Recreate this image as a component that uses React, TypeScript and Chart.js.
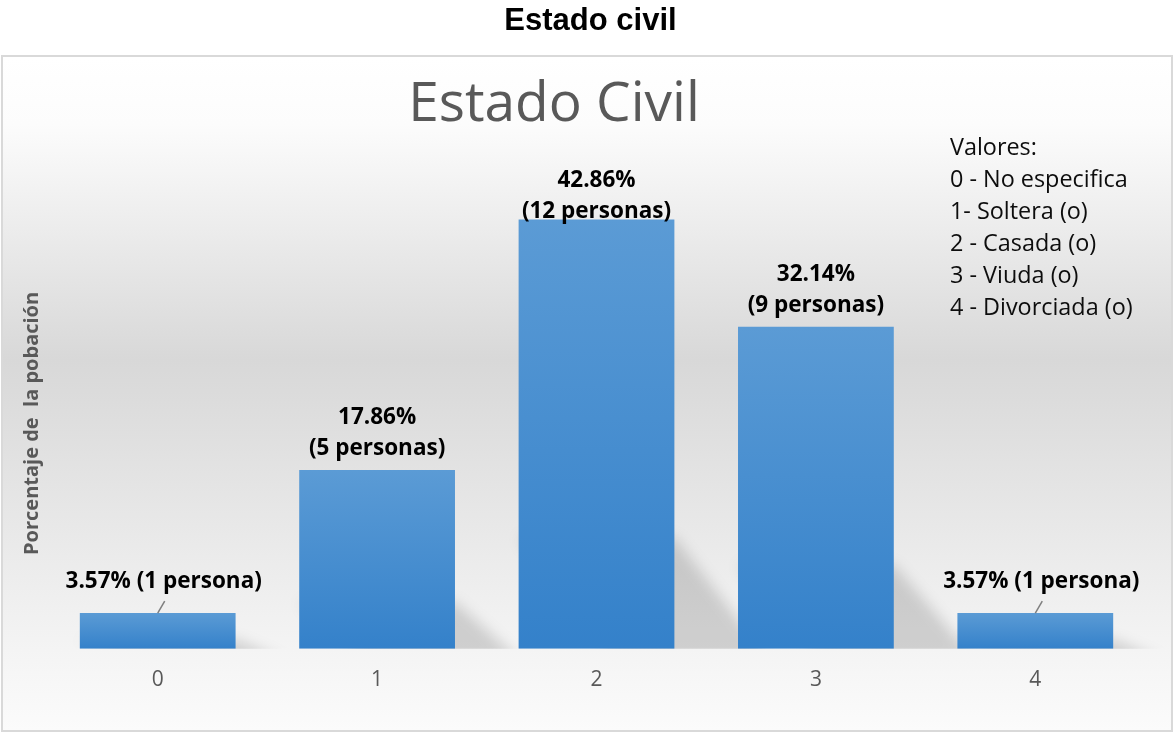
import React, { useEffect, useRef } from "react";
import { Chart, registerables } from "chart.js";

Chart.register(...registerables);

// ---- data ----
const pageTitle = "Estado civil";
const chartTitle = "Estado Civil";
const yAxisTitle = "Porcentaje de  la pobación";
const categories = ["0", "1", "2", "3", "4"];
const percentages = [3.57, 17.86, 42.86, 32.14, 3.57];
const personCounts = [1, 5, 12, 9, 1];
const legendLines = [
  "Valores:",
  "0 - No especifica",
  "1- Soltera (o)",
  "2 - Casada (o)",
  "3 - Viuda (o)",
  "4 - Divorciada (o)",
];
const yMin = 0;
const yMax = 45;

// ---- styles ----
const BAR_TOP = "#5B9BD5";
const BAR_BOTTOM = "#3481CA";
const GREY_TEXT = "#595959";
const FONT = '"Open Sans", "Noto Sans", sans-serif';

function labelLinesFor(i: number): string[] {
  const p = `${percentages[i].toFixed(2)}%`;
  const n = personCounts[i];
  if (n === 1) return [`${p} (${n} persona)`];
  return [p, `(${n} personas)`];
}

const decorPlugin = {
  id: "decor",
  beforeDraw(chart: any) {
    const ctx: CanvasRenderingContext2D = chart.ctx;
    const W = chart.width;
    const H = chart.height;
    ctx.save();
    ctx.fillStyle = "#ffffff";
    ctx.fillRect(0, 0, W, H);

    // outer page title
    ctx.fillStyle = "#000000";
    ctx.font = 'bold 31px "Liberation Sans", Arial, sans-serif';
    ctx.textAlign = "center";
    ctx.textBaseline = "alphabetic";
    ctx.fillText(pageTitle, 590.5, 30);

    // box with gradient background
    const bx = 3, by = 57, bw = W - 7, bh = H - 61;
    const g = ctx.createLinearGradient(0, by, 0, by + bh);
    g.addColorStop(0, "#ffffff");
    g.addColorStop(0.1, "#fcfcfc");
    g.addColorStop(0.45, "#d8d8d8");
    g.addColorStop(0.88, "#f4f4f4");
    g.addColorStop(1, "#fbfbfb");
    ctx.fillStyle = g;
    ctx.fillRect(bx, by, bw, bh);
    ctx.strokeStyle = "#d9d9d9";
    ctx.lineWidth = 2;
    ctx.strokeRect(bx - 1, by - 1, bw + 2, bh + 2);

    // chart title
    ctx.fillStyle = GREY_TEXT;
    ctx.font = `55px ${FONT}`;
    ctx.textAlign = "center";
    ctx.textBaseline = "alphabetic";
    ctx.fillText(chartTitle, 554, 121);

    // legend text block
    ctx.fillStyle = "#0d0d0d";
    ctx.font = `23.4px ${FONT}`;
    ctx.textAlign = "left";
    ctx.textBaseline = "middle";
    legendLines.forEach((t, i) => ctx.fillText(t, 950, 148 + i * 32));

    // y axis title
    const ca = chart.chartArea;
    ctx.save();
    ctx.translate(32, (ca.top + ca.bottom) / 2);
    ctx.rotate(-Math.PI / 2);
    ctx.fillStyle = GREY_TEXT;
    ctx.font = `bold 20px ${FONT}`;
    ctx.textAlign = "center";
    ctx.textBaseline = "middle";
    ctx.fillText(yAxisTitle, 0, 0);
    ctx.restore();

    ctx.restore();
  },
  beforeDatasetsDraw(chart: any) {
    const ctx: CanvasRenderingContext2D = chart.ctx;
    const ca = chart.chartArea;
    const meta = chart.getDatasetMeta(0);
    ctx.save();
    ctx.beginPath();
    ctx.rect(ca.left, 0, chart.width - ca.left - 4, ca.bottom);
    ctx.clip();
    ctx.filter = "blur(7px)";
    ctx.fillStyle = "rgba(0,0,0,0.15)";
    meta.data.forEach((el: any) => {
      const { x, y, base, width } = el.getProps(["x", "y", "base", "width"], true);
      const left = x - width / 2;
      const right = x + width / 2;
      const h = base - y;
      const top = base - 0.26 * h;
      const ext = 40 + 0.1 * h;
      ctx.beginPath();
      ctx.moveTo(left, top);
      ctx.lineTo(right, top);
      ctx.lineTo(right + ext * 1.15, base + 12);
      ctx.lineTo(left + ext * 1.15, base + 12);
      ctx.closePath();
      ctx.fill();
    });
    ctx.restore();
  },
  afterDatasetsDraw(chart: any) {
    const ctx: CanvasRenderingContext2D = chart.ctx;
    const ca = chart.chartArea;
    const meta = chart.getDatasetMeta(0);
    ctx.save();
    ctx.fillStyle = "#000000";
    ctx.font = `bold 22.5px ${FONT}`;
    ctx.textAlign = "center";
    ctx.textBaseline = "middle";
    meta.data.forEach((el: any, i: number) => {
      const { x, y } = el.getProps(["x", "y"], true);
      const lines = labelLinesFor(i);
      if (lines.length === 1) {
        ctx.fillText(lines[0], x + 6, y - 31);
        ctx.strokeStyle = "#7f7f7f";
        ctx.lineWidth = 1.5;
        ctx.beginPath();
        ctx.moveTo(x, y);
        ctx.lineTo(x + 7, y - 12);
        ctx.stroke();
      } else {
        const lh = 31;
        let first = y - 21 - lh * (lines.length - 1);
        if (first < ca.top - 17) first = ca.top - 17;
        lines.forEach((t, k) => ctx.fillText(t, x, first + k * lh));
      }
    });
    ctx.restore();
  },
};

export default function App() {
  const ref = useRef<HTMLCanvasElement | null>(null);
  useEffect(() => {
    if (!ref.current) return;
    const chart = new Chart(ref.current, {
      type: "bar",
      data: {
        labels: categories,
        datasets: [
          {
            data: percentages,
            backgroundColor: (c: any) => {
              const ys = c.chart.scales?.y;
              if (!ys || c.type !== "data") return BAR_TOP;
              const top = ys.getPixelForValue(c.raw as number);
              const bottom = ys.getPixelForValue(0);
              if (!isFinite(top) || !isFinite(bottom)) return BAR_TOP;
              const g = c.chart.ctx.createLinearGradient(0, top, 0, bottom);
              g.addColorStop(0, BAR_TOP);
              g.addColorStop(1, BAR_BOTTOM);
              return g;
            },
            borderWidth: 0,
            barPercentage: 0.71,
            categoryPercentage: 1,
          },
        ],
      },
      options: {
        responsive: false,
        animation: false,
        events: [],
        layout: { padding: { left: 48, right: 30, top: 198, bottom: 22 } },
        plugins: {
          legend: { display: false },
          title: { display: false },
          tooltip: { enabled: false },
        },
        scales: {
          x: {
            grid: { display: false, drawTicks: false },
            border: { display: false },
            ticks: {
              color: GREY_TEXT,
              font: { family: FONT, size: 21 },
              padding: 19,
            },
          },
          y: { display: false, min: yMin, max: yMax },
        },
      },
      plugins: [decorPlugin],
    });
    return () => chart.destroy();
  }, []);
  return (
    <div style={{ position: "absolute", left: 0, top: 0, width: 1175, height: 734 }}>
      <canvas ref={ref} width={1175} height={734} style={{ display: "block" }} />
    </div>
  );
}
